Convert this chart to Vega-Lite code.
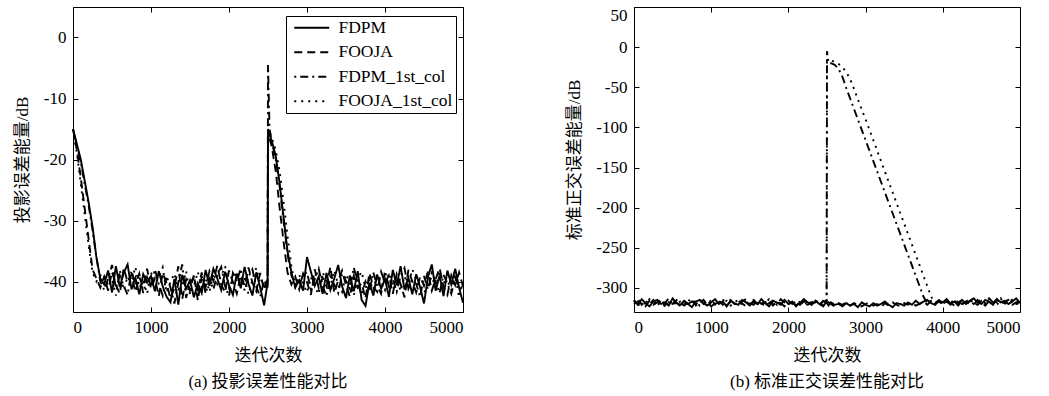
{
"$schema":"https://vega.github.io/schema/vega-lite/v6.json",
"background":"white",
"padding":{"left":12,"top":5,"right":0,"bottom":0},
"bounds":"flush",
"spacing":171,
"config":{
 "font":"Liberation Serif",
 "view":{"stroke":"black","strokeWidth":1},
 "axis":{"grid":false,"domain":false,"labelFont":"Liberation Serif","labelFontSize":17,"labelColor":"black","titleFont":"Liberation Serif, Noto Sans CJK SC","titleFontSize":17,"titleFontWeight":"normal","titleColor":"black","tickColor":"black","tickSize":-5,"labelPadding":12,"titlePadding":12,"labelExpr":"'' + datum.value"},
 "title":{"font":"Liberation Serif, Noto Sans CJK SC","fontSize":17,"fontWeight":"normal","color":"black"},
 "legend":{"labelFont":"Liberation Serif","labelFontSize":17.5,"labelColor":"black"}
},
"hconcat":[
{
 "width":390,"height":305,
 "title":{"text":"(a) 投影误差性能对比","orient":"bottom","offset":11},
 "data":{"values":[
{"x":0,"FDPM":-15,"FOOJA":-15,"FDPM_1st_col":-15,"FOOJA_1st_col":-15},
{"x":50,"FDPM":-17.5,"FOOJA":-18.5,"FDPM_1st_col":-17.8,"FOOJA_1st_col":-19},
{"x":100,"FDPM":-20,"FOOJA":-23,"FDPM_1st_col":-20.5,"FOOJA_1st_col":-24},
{"x":150,"FDPM":-23.5,"FOOJA":-28,"FDPM_1st_col":-24,"FOOJA_1st_col":-29},
{"x":200,"FDPM":-27,"FOOJA":-33,"FDPM_1st_col":-27.5,"FOOJA_1st_col":-34},
{"x":250,"FDPM":-31,"FOOJA":-38,"FDPM_1st_col":-31.5,"FOOJA_1st_col":-38.5},
{"x":300,"FDPM":-36,"FOOJA":-39.5,"FDPM_1st_col":-36,"FOOJA_1st_col":-40},
{"x":350,"FDPM":-39.5,"FOOJA":-41,"FDPM_1st_col":-40,"FOOJA_1st_col":-39},
{"x":400,"FDPM":-40.5,"FOOJA":-39.2,"FDPM_1st_col":-41.4,"FOOJA_1st_col":-38.8},
{"x":450,"FDPM":-38.2,"FOOJA":-41.5,"FDPM_1st_col":-39.6,"FOOJA_1st_col":-40.9},
{"x":500,"FDPM":-41.8,"FOOJA":-38.4,"FDPM_1st_col":-37.3,"FOOJA_1st_col":-39.7},
{"x":550,"FDPM":-37.5,"FOOJA":-40.6,"FDPM_1st_col":-41.1,"FOOJA_1st_col":-42.3},
{"x":600,"FDPM":-40.9,"FOOJA":-42.0,"FDPM_1st_col":-39.0,"FOOJA_1st_col":-38.1},
{"x":650,"FDPM":-38.6,"FOOJA":-37.8,"FDPM_1st_col":-40.7,"FOOJA_1st_col":-41.4},
{"x":700,"FDPM":-37.2,"FOOJA":-40.1,"FDPM_1st_col":-42.2,"FOOJA_1st_col":-39.2},
{"x":750,"FDPM":-41.3,"FOOJA":-38.9,"FDPM_1st_col":-38.2,"FOOJA_1st_col":-40.0},
{"x":800,"FDPM":-39.4,"FOOJA":-41.7,"FDPM_1st_col":-40.5,"FOOJA_1st_col":-37.6},
{"x":850,"FDPM":-42.1,"FOOJA":-39.3,"FDPM_1st_col":-38.7,"FOOJA_1st_col":-41.0},
{"x":900,"FDPM":-38.8,"FOOJA":-40.8,"FDPM_1st_col":-41.9,"FOOJA_1st_col":-39.9},
{"x":950,"FDPM":-40.2,"FOOJA":-37.9,"FDPM_1st_col":-39.3,"FOOJA_1st_col":-42.0},
{"x":1000,"FDPM":-39.1,"FOOJA":-41.2,"FDPM_1st_col":-40.9,"FOOJA_1st_col":-38.5},
{"x":1050,"FDPM":-41.6,"FOOJA":-39.5,"FDPM_1st_col":-38.0,"FOOJA_1st_col":-40.3},
{"x":1100,"FDPM":-38.3,"FOOJA":-42.4,"FDPM_1st_col":-40.4,"FOOJA_1st_col":-39.4},
{"x":1150,"FDPM":-40.8,"FOOJA":-38.6,"FDPM_1st_col":-42.3,"FOOJA_1st_col":-37.7},
{"x":1200,"FDPM":-42.5,"FOOJA":-40.3,"FDPM_1st_col":-39.1,"FOOJA_1st_col":-41.8},
{"x":1250,"FDPM":-43.4,"FOOJA":-42.8,"FDPM_1st_col":-41.0,"FOOJA_1st_col":-40.1},
{"x":1300,"FDPM":-39.6,"FOOJA":-41.1,"FDPM_1st_col":-43.6,"FOOJA_1st_col":-38.7},
{"x":1350,"FDPM":-43.8,"FOOJA":-37.5,"FDPM_1st_col":-40.2,"FOOJA_1st_col":-41.3},
{"x":1400,"FDPM":-38.9,"FOOJA":-42.9,"FDPM_1st_col":-37.2,"FOOJA_1st_col":-40.6},
{"x":1450,"FDPM":-41.2,"FOOJA":-39.7,"FDPM_1st_col":-42.7,"FOOJA_1st_col":-38.3},
{"x":1500,"FDPM":-39.8,"FOOJA":-41.5,"FDPM_1st_col":-40.1,"FOOJA_1st_col":-42.2},
{"x":1550,"FDPM":-42.6,"FOOJA":-38.9,"FDPM_1st_col":-39.4,"FOOJA_1st_col":-40.8},
{"x":1600,"FDPM":-40.3,"FOOJA":-43.1,"FDPM_1st_col":-41.6,"FOOJA_1st_col":-38.4},
{"x":1650,"FDPM":-41.9,"FOOJA":-39.2,"FDPM_1st_col":-38.5,"FOOJA_1st_col":-40.9},
{"x":1700,"FDPM":-38.1,"FOOJA":-40.9,"FDPM_1st_col":-42.0,"FOOJA_1st_col":-39.3},
{"x":1750,"FDPM":-40.7,"FOOJA":-38.3,"FDPM_1st_col":-39.6,"FOOJA_1st_col":-41.7},
{"x":1800,"FDPM":-37.9,"FOOJA":-39.9,"FDPM_1st_col":-41.3,"FOOJA_1st_col":-38.6},
{"x":1850,"FDPM":-39.5,"FOOJA":-37.4,"FDPM_1st_col":-38.9,"FOOJA_1st_col":-40.4},
{"x":1900,"FDPM":-41.4,"FOOJA":-40.5,"FDPM_1st_col":-37.6,"FOOJA_1st_col":-39.1},
{"x":1950,"FDPM":-38.4,"FOOJA":-41.8,"FDPM_1st_col":-40.8,"FOOJA_1st_col":-37.5},
{"x":2000,"FDPM":-40.6,"FOOJA":-38.2,"FDPM_1st_col":-42.4,"FOOJA_1st_col":-41.0},
{"x":2050,"FDPM":-42.2,"FOOJA":-40.1,"FDPM_1st_col":-38.6,"FOOJA_1st_col":-39.6},
{"x":2100,"FDPM":-38.7,"FOOJA":-42.0,"FDPM_1st_col":-40.0,"FOOJA_1st_col":-38.4},
{"x":2150,"FDPM":-41.1,"FOOJA":-39.0,"FDPM_1st_col":-37.9,"FOOJA_1st_col":-40.7},
{"x":2200,"FDPM":-37.6,"FOOJA":-40.7,"FDPM_1st_col":-41.5,"FOOJA_1st_col":-39.4},
{"x":2250,"FDPM":-40.4,"FOOJA":-37.7,"FDPM_1st_col":-39.2,"FOOJA_1st_col":-42.1},
{"x":2300,"FDPM":-42.3,"FOOJA":-40.2,"FDPM_1st_col":-38.0,"FOOJA_1st_col":-39.7},
{"x":2350,"FDPM":-38.5,"FOOJA":-41.6,"FDPM_1st_col":-40.9,"FOOJA_1st_col":-37.8},
{"x":2400,"FDPM":-41.0,"FOOJA":-38.6,"FDPM_1st_col":-42.5,"FOOJA_1st_col":-40.3},
{"x":2450,"FDPM":-43.9,"FOOJA":-41.4,"FDPM_1st_col":-39.8,"FOOJA_1st_col":-40.6},
{"x":2495,"FDPM":-40.2,"FOOJA":-39.5,"FDPM_1st_col":-41.0,"FOOJA_1st_col":-39.8},
{"x":2500,"FDPM":-15.5,"FOOJA":-15,"FDPM_1st_col":-4.5,"FOOJA_1st_col":-15.2},
{"x":2520,"FDPM":-16,"FOOJA":-16.5,"FDPM_1st_col":-15,"FOOJA_1st_col":-15.5},
{"x":2550,"FDPM":-17,"FOOJA":-18,"FDPM_1st_col":-17.2,"FOOJA_1st_col":-16.5},
{"x":2600,"FDPM":-19.5,"FOOJA":-22,"FDPM_1st_col":-20,"FOOJA_1st_col":-18.5},
{"x":2650,"FDPM":-24,"FOOJA":-28,"FDPM_1st_col":-24.5,"FOOJA_1st_col":-22},
{"x":2700,"FDPM":-29.5,"FOOJA":-33.5,"FDPM_1st_col":-30,"FOOJA_1st_col":-27},
{"x":2750,"FDPM":-35,"FOOJA":-38.5,"FDPM_1st_col":-35.5,"FOOJA_1st_col":-32.5},
{"x":2800,"FDPM":-38.5,"FOOJA":-40.5,"FDPM_1st_col":-39,"FOOJA_1st_col":-37.5},
{"x":2850,"FDPM":-41,"FOOJA":-39.2,"FDPM_1st_col":-40.4,"FOOJA_1st_col":-40.8},
{"x":2900,"FDPM":-39.8,"FOOJA":-41.3,"FDPM_1st_col":-40.6,"FOOJA_1st_col":-38.9},
{"x":2950,"FDPM":-41.5,"FOOJA":-38.7,"FDPM_1st_col":-39.0,"FOOJA_1st_col":-40.4},
{"x":3000,"FDPM":-36.0,"FOOJA":-40.1,"FDPM_1st_col":-38.5,"FOOJA_1st_col":-41.8},
{"x":3050,"FDPM":-38.4,"FOOJA":-42.2,"FDPM_1st_col":-41.3,"FOOJA_1st_col":-39.3},
{"x":3100,"FDPM":-40.7,"FOOJA":-38.0,"FDPM_1st_col":-39.6,"FOOJA_1st_col":-40.9},
{"x":3150,"FDPM":-39.2,"FOOJA":-41.1,"FDPM_1st_col":-37.9,"FOOJA_1st_col":-42.1},
{"x":3200,"FDPM":-42.0,"FOOJA":-39.4,"FDPM_1st_col":-40.8,"FOOJA_1st_col":-38.5},
{"x":3250,"FDPM":-38.6,"FOOJA":-40.8,"FDPM_1st_col":-42.4,"FOOJA_1st_col":-39.9},
{"x":3300,"FDPM":-41.4,"FOOJA":-37.6,"FDPM_1st_col":-39.2,"FOOJA_1st_col":-41.0},
{"x":3350,"FDPM":-39.5,"FOOJA":-41.9,"FDPM_1st_col":-40.5,"FOOJA_1st_col":-38.2},
{"x":3400,"FDPM":-37.3,"FOOJA":-39.8,"FDPM_1st_col":-41.9,"FOOJA_1st_col":-40.6},
{"x":3450,"FDPM":-40.8,"FOOJA":-38.2,"FDPM_1st_col":-38.7,"FOOJA_1st_col":-41.7},
{"x":3500,"FDPM":-42.7,"FOOJA":-40.6,"FDPM_1st_col":-39.9,"FOOJA_1st_col":-38.8},
{"x":3550,"FDPM":-39.0,"FOOJA":-42.5,"FDPM_1st_col":-41.2,"FOOJA_1st_col":-40.2},
{"x":3600,"FDPM":-41.6,"FOOJA":-39.1,"FDPM_1st_col":-37.7,"FOOJA_1st_col":-42.3},
{"x":3650,"FDPM":-38.3,"FOOJA":-41.0,"FDPM_1st_col":-40.3,"FOOJA_1st_col":-39.5},
{"x":3700,"FDPM":-43.0,"FOOJA":-40.3,"FDPM_1st_col":-42.2,"FOOJA_1st_col":-38.4},
{"x":3750,"FDPM":-44.0,"FOOJA":-42.8,"FDPM_1st_col":-40.0,"FOOJA_1st_col":-41.1},
{"x":3800,"FDPM":-40.2,"FOOJA":-38.6,"FDPM_1st_col":-41.6,"FOOJA_1st_col":-39.7},
{"x":3850,"FDPM":-42.3,"FOOJA":-40.9,"FDPM_1st_col":-38.5,"FOOJA_1st_col":-41.5},
{"x":3900,"FDPM":-38.9,"FOOJA":-41.7,"FDPM_1st_col":-40.7,"FOOJA_1st_col":-38.7},
{"x":3950,"FDPM":-41.2,"FOOJA":-38.4,"FDPM_1st_col":-42.0,"FOOJA_1st_col":-40.0},
{"x":4000,"FDPM":-39.6,"FOOJA":-40.2,"FDPM_1st_col":-38.3,"FOOJA_1st_col":-41.4},
{"x":4050,"FDPM":-42.5,"FOOJA":-39.0,"FDPM_1st_col":-40.8,"FOOJA_1st_col":-38.6},
{"x":4100,"FDPM":-38.1,"FOOJA":-42.0,"FDPM_1st_col":-39.5,"FOOJA_1st_col":-40.5},
{"x":4150,"FDPM":-40.6,"FOOJA":-38.8,"FDPM_1st_col":-41.7,"FOOJA_1st_col":-39.3},
{"x":4200,"FDPM":-37.5,"FOOJA":-40.4,"FDPM_1st_col":-39.0,"FOOJA_1st_col":-41.6},
{"x":4250,"FDPM":-41.3,"FOOJA":-42.6,"FDPM_1st_col":-37.8,"FOOJA_1st_col":-39.1},
{"x":4300,"FDPM":-39.4,"FOOJA":-38.1,"FDPM_1st_col":-41.2,"FOOJA_1st_col":-40.8},
{"x":4350,"FDPM":-42.1,"FOOJA":-40.0,"FDPM_1st_col":-39.7,"FOOJA_1st_col":-38.0},
{"x":4400,"FDPM":-38.8,"FOOJA":-41.8,"FDPM_1st_col":-40.4,"FOOJA_1st_col":-39.6},
{"x":4450,"FDPM":-40.9,"FOOJA":-39.2,"FDPM_1st_col":-42.5,"FOOJA_1st_col":-41.2},
{"x":4500,"FDPM":-43.6,"FOOJA":-40.7,"FDPM_1st_col":-39.1,"FOOJA_1st_col":-42.0},
{"x":4550,"FDPM":-39.3,"FOOJA":-38.4,"FDPM_1st_col":-41.3,"FOOJA_1st_col":-40.4},
{"x":4600,"FDPM":-37.2,"FOOJA":-41.5,"FDPM_1st_col":-38.6,"FOOJA_1st_col":-39.2},
{"x":4650,"FDPM":-41.5,"FOOJA":-39.6,"FDPM_1st_col":-40.1,"FOOJA_1st_col":-41.0},
{"x":4700,"FDPM":-39.0,"FOOJA":-37.8,"FDPM_1st_col":-41.9,"FOOJA_1st_col":-38.5},
{"x":4750,"FDPM":-42.4,"FOOJA":-40.9,"FDPM_1st_col":-38.9,"FOOJA_1st_col":-40.2},
{"x":4800,"FDPM":-38.2,"FOOJA":-42.2,"FDPM_1st_col":-40.3,"FOOJA_1st_col":-39.8},
{"x":4850,"FDPM":-40.5,"FOOJA":-39.0,"FDPM_1st_col":-42.0,"FOOJA_1st_col":-41.4},
{"x":4900,"FDPM":-37.9,"FOOJA":-40.6,"FDPM_1st_col":-39.4,"FOOJA_1st_col":-38.9},
{"x":4950,"FDPM":-41.0,"FOOJA":-38.5,"FDPM_1st_col":-40.9,"FOOJA_1st_col":-42.6},
{"x":5000,"FDPM":-43.5,"FOOJA":-40.8,"FDPM_1st_col":-41.5,"FOOJA_1st_col":-40.0}
 ]},
 "transform":[{"fold":["FDPM","FOOJA","FDPM_1st_col","FOOJA_1st_col"],"as":["series","value"]}],
 "layer":[
  {"mark":{"type":"line","color":"black","strokeWidth":1.9},
   "encoding":{
    "x":{"field":"x","type":"quantitative","scale":{"domain":[0,5000],"nice":false},"axis":{"values":[0,1000,2000,3000,4000,5000],"title":"迭代次数"}},
    "y":{"field":"value","type":"quantitative","scale":{"domain":[-45,5],"nice":false},"axis":{"values":[-40,-30,-20,-10,0],"title":"投影误差能量/dB"}},
    "strokeDash":{"field":"series","type":"nominal","scale":{"domain":["FDPM","FOOJA","FDPM_1st_col","FOOJA_1st_col"],"range":[[1,0],[8,5],[2,4,8,4],[2,5]]},
     "legend":{"title":null,"orient":"none","legendX":213,"legendY":9,"strokeColor":"black","fillColor":"white","padding":3,"symbolType":"M-0.5,0H4.5","symbolSize":196,"symbolStrokeWidth":1.8,"symbolStrokeColor":"black","symbolFillColor":"transparent","labelOffset":32,"rowPadding":5.5}}
   }},
  {"mark":{"type":"line","opacity":0},
   "encoding":{
    "x":{"field":"x","type":"quantitative","axis":{"orient":"top","labels":false,"title":null,"values":[0,1000,2000,3000,4000,5000]}},
    "y":{"field":"value","type":"quantitative","axis":{"orient":"right","labels":false,"title":null,"values":[-40,-30,-20,-10,0]}}
   }}
 ],
 "resolve":{"axis":{"x":"independent","y":"independent"}}
},
{
 "width":386,"height":305,
 "title":{"text":"(b) 标准正交误差性能对比","orient":"bottom","offset":11},
 "data":{"values":[
{"x":0,"FDPM":-316,"FOOJA":-320,"FDPM_1st_col":-318,"FOOJA_1st_col":-315},
{"x":50,"FDPM":-321,"FOOJA":-317,"FDPM_1st_col":-314,"FOOJA_1st_col":-322},
{"x":100,"FDPM":-314,"FOOJA":-319,"FDPM_1st_col":-321,"FOOJA_1st_col":-318},
{"x":150,"FDPM":-319,"FOOJA":-323,"FDPM_1st_col":-316,"FOOJA_1st_col":-320},
{"x":200,"FDPM":-323,"FOOJA":-316,"FDPM_1st_col":-320,"FOOJA_1st_col":-314},
{"x":250,"FDPM":-317,"FOOJA":-321,"FDPM_1st_col":-315,"FOOJA_1st_col":-319},
{"x":300,"FDPM":-315,"FOOJA":-318,"FDPM_1st_col":-322,"FOOJA_1st_col":-321},
{"x":350,"FDPM":-320,"FOOJA":-314,"FDPM_1st_col":-317,"FOOJA_1st_col":-316},
{"x":400,"FDPM":-318,"FOOJA":-322,"FDPM_1st_col":-319,"FOOJA_1st_col":-323},
{"x":450,"FDPM":-322,"FOOJA":-317,"FDPM_1st_col":-313,"FOOJA_1st_col":-318},
{"x":500,"FDPM":-313,"FOOJA":-320,"FDPM_1st_col":-321,"FOOJA_1st_col":-315},
{"x":550,"FDPM":-319,"FOOJA":-315,"FDPM_1st_col":-318,"FOOJA_1st_col":-320},
{"x":600,"FDPM":-321,"FOOJA":-319,"FDPM_1st_col":-323,"FOOJA_1st_col":-317},
{"x":650,"FDPM":-316,"FOOJA":-322,"FDPM_1st_col":-316,"FOOJA_1st_col":-321},
{"x":700,"FDPM":-320,"FOOJA":-318,"FDPM_1st_col":-320,"FOOJA_1st_col":-314},
{"x":750,"FDPM":-324,"FOOJA":-316,"FDPM_1st_col":-317,"FOOJA_1st_col":-319},
{"x":800,"FDPM":-317,"FOOJA":-321,"FDPM_1st_col":-322,"FOOJA_1st_col":-316},
{"x":850,"FDPM":-315,"FOOJA":-314,"FDPM_1st_col":-319,"FOOJA_1st_col":-322},
{"x":900,"FDPM":-319,"FOOJA":-320,"FDPM_1st_col":-315,"FOOJA_1st_col":-318},
{"x":950,"FDPM":-322,"FOOJA":-317,"FDPM_1st_col":-321,"FOOJA_1st_col":-320},
{"x":1000,"FDPM":-318,"FOOJA":-323,"FDPM_1st_col":-316,"FOOJA_1st_col":-315},
{"x":1050,"FDPM":-314,"FOOJA":-319,"FDPM_1st_col":-320,"FOOJA_1st_col":-321},
{"x":1100,"FDPM":-320,"FOOJA":-316,"FDPM_1st_col":-318,"FOOJA_1st_col":-317},
{"x":1150,"FDPM":-317,"FOOJA":-321,"FDPM_1st_col":-314,"FOOJA_1st_col":-319},
{"x":1200,"FDPM":-323,"FOOJA":-318,"FDPM_1st_col":-322,"FOOJA_1st_col":-316},
{"x":1250,"FDPM":-316,"FOOJA":-315,"FDPM_1st_col":-317,"FOOJA_1st_col":-322},
{"x":1300,"FDPM":-319,"FOOJA":-320,"FDPM_1st_col":-321,"FOOJA_1st_col":-318},
{"x":1350,"FDPM":-321,"FOOJA":-322,"FDPM_1st_col":-316,"FOOJA_1st_col":-315},
{"x":1400,"FDPM":-315,"FOOJA":-317,"FDPM_1st_col":-319,"FOOJA_1st_col":-320},
{"x":1450,"FDPM":-318,"FOOJA":-314,"FDPM_1st_col":-323,"FOOJA_1st_col":-317},
{"x":1500,"FDPM":-322,"FOOJA":-319,"FDPM_1st_col":-318,"FOOJA_1st_col":-321},
{"x":1550,"FDPM":-317,"FOOJA":-321,"FDPM_1st_col":-315,"FOOJA_1st_col":-316},
{"x":1600,"FDPM":-320,"FOOJA":-316,"FDPM_1st_col":-320,"FOOJA_1st_col":-319},
{"x":1650,"FDPM":-314,"FOOJA":-320,"FDPM_1st_col":-317,"FOOJA_1st_col":-323},
{"x":1700,"FDPM":-319,"FOOJA":-318,"FDPM_1st_col":-322,"FOOJA_1st_col":-318},
{"x":1750,"FDPM":-323,"FOOJA":-315,"FDPM_1st_col":-319,"FOOJA_1st_col":-314},
{"x":1800,"FDPM":-316,"FOOJA":-322,"FDPM_1st_col":-316,"FOOJA_1st_col":-320},
{"x":1850,"FDPM":-318,"FOOJA":-317,"FDPM_1st_col":-321,"FOOJA_1st_col":-317},
{"x":1900,"FDPM":-321,"FOOJA":-319,"FDPM_1st_col":-314,"FOOJA_1st_col":-321},
{"x":1950,"FDPM":-315,"FOOJA":-323,"FDPM_1st_col":-318,"FOOJA_1st_col":-316},
{"x":2000,"FDPM":-320,"FOOJA":-316,"FDPM_1st_col":-320,"FOOJA_1st_col":-319},
{"x":2050,"FDPM":-317,"FOOJA":-320,"FDPM_1st_col":-317,"FOOJA_1st_col":-322},
{"x":2100,"FDPM":-322,"FOOJA":-318,"FDPM_1st_col":-323,"FOOJA_1st_col":-315},
{"x":2150,"FDPM":-319,"FOOJA":-321,"FDPM_1st_col":-316,"FOOJA_1st_col":-318},
{"x":2200,"FDPM":-314,"FOOJA":-317,"FDPM_1st_col":-319,"FOOJA_1st_col":-320},
{"x":2250,"FDPM":-318,"FOOJA":-315,"FDPM_1st_col":-321,"FOOJA_1st_col":-317},
{"x":2300,"FDPM":-321,"FOOJA":-320,"FDPM_1st_col":-318,"FOOJA_1st_col":-321},
{"x":2350,"FDPM":-316,"FOOJA":-318,"FDPM_1st_col":-315,"FOOJA_1st_col":-316},
{"x":2400,"FDPM":-320,"FOOJA":-322,"FDPM_1st_col":-320,"FOOJA_1st_col":-319},
{"x":2450,"FDPM":-323,"FOOJA":-316,"FDPM_1st_col":-317,"FOOJA_1st_col":-321},
{"x":2495,"FDPM":-317,"FOOJA":-319,"FDPM_1st_col":-316,"FOOJA_1st_col":-318},
{"x":2500,"FDPM":-319,"FOOJA":-321,"FDPM_1st_col":-5,"FOOJA_1st_col":-18},
{"x":2520,"FDPM":-322,"FOOJA":-318,"FDPM_1st_col":-20,"FOOJA_1st_col":-18},
{"x":2550,"FDPM":-318,"FOOJA":-320,"FDPM_1st_col":-20,"FOOJA_1st_col":-17},
{"x":2600,"FDPM":-321,"FOOJA":-323,"FDPM_1st_col":-22,"FOOJA_1st_col":-18},
{"x":2650,"FDPM":-320,"FOOJA":-319,"FDPM_1st_col":-27,"FOOJA_1st_col":-21},
{"x":2700,"FDPM":-323,"FOOJA":-321,"FDPM_1st_col":-37,"FOOJA_1st_col":-25},
{"x":2750,"FDPM":-319,"FOOJA":-318,"FDPM_1st_col":-51,"FOOJA_1st_col":-31},
{"x":2800,"FDPM":-322,"FOOJA":-322,"FDPM_1st_col":-64,"FOOJA_1st_col":-40},
{"x":2850,"FDPM":-320,"FOOJA":-319,"FDPM_1st_col":-77,"FOOJA_1st_col":-52},
{"x":2900,"FDPM":-324,"FOOJA":-321,"FDPM_1st_col":-90,"FOOJA_1st_col":-65},
{"x":2950,"FDPM":-318,"FOOJA":-323,"FDPM_1st_col":-103,"FOOJA_1st_col":-78},
{"x":3000,"FDPM":-321,"FOOJA":-320,"FDPM_1st_col":-116,"FOOJA_1st_col":-90},
{"x":3050,"FDPM":-323,"FOOJA":-318,"FDPM_1st_col":-129,"FOOJA_1st_col":-103},
{"x":3100,"FDPM":-319,"FOOJA":-322,"FDPM_1st_col":-142,"FOOJA_1st_col":-116},
{"x":3150,"FDPM":-322,"FOOJA":-320,"FDPM_1st_col":-155,"FOOJA_1st_col":-129},
{"x":3200,"FDPM":-320,"FOOJA":-324,"FDPM_1st_col":-168,"FOOJA_1st_col":-142},
{"x":3250,"FDPM":-317,"FOOJA":-319,"FDPM_1st_col":-181,"FOOJA_1st_col":-155},
{"x":3300,"FDPM":-321,"FOOJA":-322,"FDPM_1st_col":-194,"FOOJA_1st_col":-168},
{"x":3350,"FDPM":-324,"FOOJA":-318,"FDPM_1st_col":-207,"FOOJA_1st_col":-181},
{"x":3400,"FDPM":-319,"FOOJA":-321,"FDPM_1st_col":-220,"FOOJA_1st_col":-194},
{"x":3450,"FDPM":-320,"FOOJA":-323,"FDPM_1st_col":-233,"FOOJA_1st_col":-207},
{"x":3500,"FDPM":-322,"FOOJA":-319,"FDPM_1st_col":-246,"FOOJA_1st_col":-220},
{"x":3550,"FDPM":-318,"FOOJA":-321,"FDPM_1st_col":-259,"FOOJA_1st_col":-233},
{"x":3600,"FDPM":-321,"FOOJA":-318,"FDPM_1st_col":-272,"FOOJA_1st_col":-246},
{"x":3650,"FDPM":-316,"FOOJA":-322,"FDPM_1st_col":-285,"FOOJA_1st_col":-259},
{"x":3700,"FDPM":-320,"FOOJA":-320,"FDPM_1st_col":-298,"FOOJA_1st_col":-272},
{"x":3750,"FDPM":-317,"FOOJA":-317,"FDPM_1st_col":-311,"FOOJA_1st_col":-285},
{"x":3800,"FDPM":-315,"FOOJA":-321,"FDPM_1st_col":-319,"FOOJA_1st_col":-298},
{"x":3850,"FDPM":-319,"FOOJA":-316,"FDPM_1st_col":-316,"FOOJA_1st_col":-311},
{"x":3900,"FDPM":-321,"FOOJA":-319,"FDPM_1st_col":-320,"FOOJA_1st_col":-319},
{"x":3950,"FDPM":-316,"FOOJA":-315,"FDPM_1st_col":-317,"FOOJA_1st_col":-316},
{"x":4000,"FDPM":-318,"FOOJA":-320,"FDPM_1st_col":-321,"FOOJA_1st_col":-320},
{"x":4050,"FDPM":-314,"FOOJA":-317,"FDPM_1st_col":-315,"FOOJA_1st_col":-318},
{"x":4100,"FDPM":-320,"FOOJA":-321,"FDPM_1st_col":-319,"FOOJA_1st_col":-314},
{"x":4150,"FDPM":-317,"FOOJA":-316,"FDPM_1st_col":-322,"FOOJA_1st_col":-321},
{"x":4200,"FDPM":-322,"FOOJA":-319,"FDPM_1st_col":-316,"FOOJA_1st_col":-317},
{"x":4250,"FDPM":-315,"FOOJA":-314,"FDPM_1st_col":-320,"FOOJA_1st_col":-319},
{"x":4300,"FDPM":-319,"FOOJA":-320,"FDPM_1st_col":-317,"FOOJA_1st_col":-322},
{"x":4350,"FDPM":-316,"FOOJA":-317,"FDPM_1st_col":-314,"FOOJA_1st_col":-316},
{"x":4400,"FDPM":-313,"FOOJA":-321,"FDPM_1st_col":-319,"FOOJA_1st_col":-320},
{"x":4450,"FDPM":-318,"FOOJA":-315,"FDPM_1st_col":-321,"FOOJA_1st_col":-317},
{"x":4500,"FDPM":-320,"FOOJA":-318,"FDPM_1st_col":-316,"FOOJA_1st_col":-315},
{"x":4550,"FDPM":-315,"FOOJA":-322,"FDPM_1st_col":-320,"FOOJA_1st_col":-319},
{"x":4600,"FDPM":-317,"FOOJA":-316,"FDPM_1st_col":-313,"FOOJA_1st_col":-321},
{"x":4650,"FDPM":-321,"FOOJA":-319,"FDPM_1st_col":-318,"FOOJA_1st_col":-316},
{"x":4700,"FDPM":-314,"FOOJA":-314,"FDPM_1st_col":-321,"FOOJA_1st_col":-318},
{"x":4750,"FDPM":-318,"FOOJA":-320,"FDPM_1st_col":-316,"FOOJA_1st_col":-313},
{"x":4800,"FDPM":-316,"FOOJA":-317,"FDPM_1st_col":-319,"FOOJA_1st_col":-320},
{"x":4850,"FDPM":-320,"FOOJA":-315,"FDPM_1st_col":-314,"FOOJA_1st_col":-317},
{"x":4900,"FDPM":-317,"FOOJA":-321,"FDPM_1st_col":-318,"FOOJA_1st_col":-315},
{"x":4950,"FDPM":-313,"FOOJA":-318,"FDPM_1st_col":-320,"FOOJA_1st_col":-319},
{"x":5000,"FDPM":-319,"FOOJA":-316,"FDPM_1st_col":-317,"FOOJA_1st_col":-321}
 ]},
 "transform":[{"fold":["FDPM","FOOJA","FDPM_1st_col","FOOJA_1st_col"],"as":["series","value"]}],
 "layer":[
  {"mark":{"type":"line","color":"black","strokeWidth":1.9},
   "encoding":{
    "x":{"field":"x","type":"quantitative","scale":{"domain":[0,5000],"nice":false},"axis":{"values":[0,1000,2000,3000,4000,5000],"title":"迭代次数"}},
    "y":{"field":"value","type":"quantitative","scale":{"domain":[-330,50],"nice":false},"axis":{"values":[50,0,-50,-100,-150,-200,-250,-300],"title":"标准正交误差能量/dB","labelFlush":true}},
    "strokeDash":{"field":"series","type":"nominal","scale":{"domain":["FDPM","FOOJA","FDPM_1st_col","FOOJA_1st_col"],"range":[[1,0],[8,5],[2,4,8,4],[2,5]]},
     "legend":{"title":null,"orient":"none","legendX":9,"legendY":15,"strokeColor":"black","fillColor":"white","padding":3,"symbolType":"M-0.5,0H4.5","symbolSize":196,"symbolStrokeWidth":1.8,"symbolStrokeColor":"black","symbolFillColor":"transparent","labelOffset":32,"rowPadding":5.5}}
   }},
  {"mark":{"type":"line","opacity":0},
   "encoding":{
    "x":{"field":"x","type":"quantitative","axis":{"orient":"top","labels":false,"title":null,"values":[0,1000,2000,3000,4000,5000]}},
    "y":{"field":"value","type":"quantitative","axis":{"orient":"right","labels":false,"title":null,"values":[50,0,-50,-100,-150,-200,-250,-300]}}
   }}
 ],
 "resolve":{"axis":{"x":"independent","y":"independent"}}
}
]
}
